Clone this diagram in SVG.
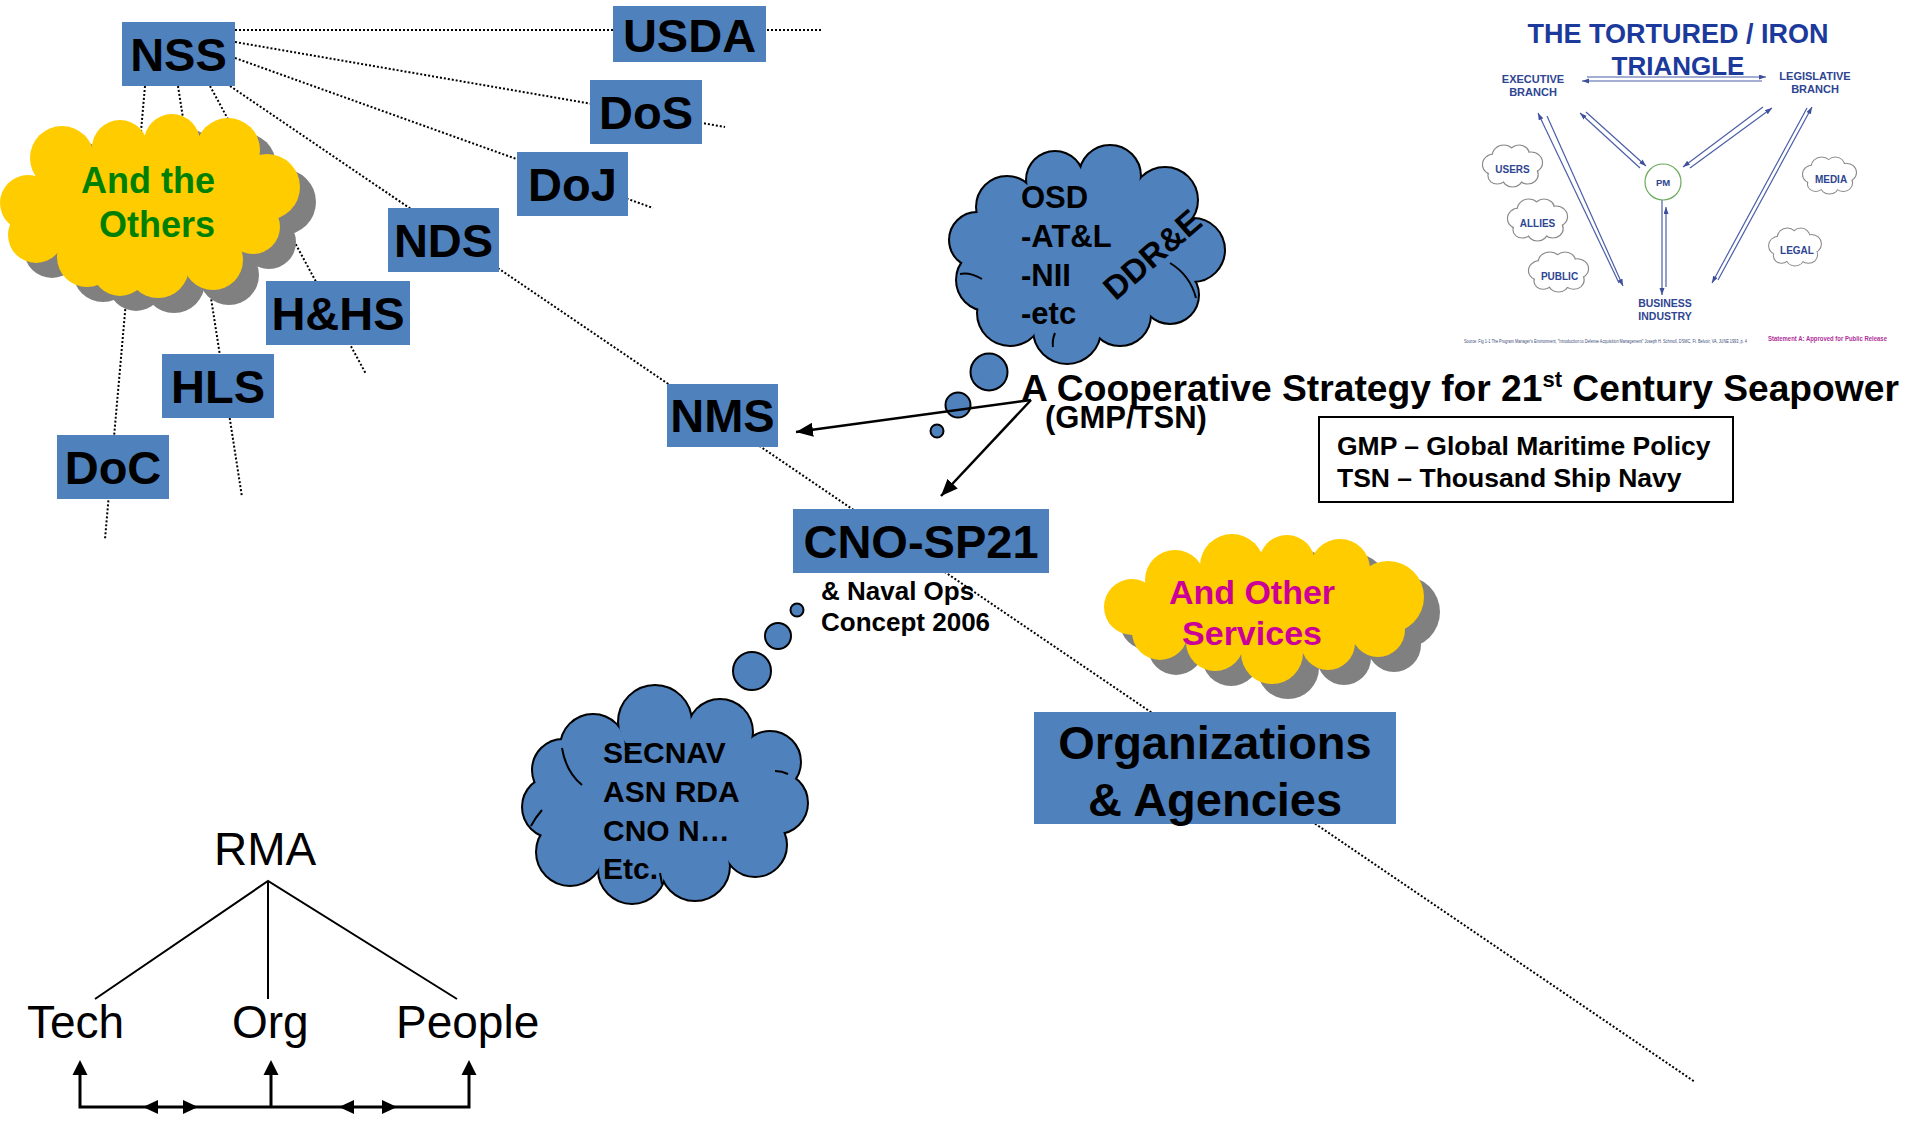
<svg xmlns="http://www.w3.org/2000/svg" xmlns:xlink="http://www.w3.org/1999/xlink" width="1911" height="1124" viewBox="0 0 1911 1124">
<style>
text{font-family:"Liberation Sans",Arial,sans-serif}
.box{fill:#4f81bd}
.lbl{font-weight:bold;font-size:47px;fill:#000;text-anchor:middle}
.dot{stroke:#000;stroke-width:2;stroke-dasharray:2 2;fill:none}
.arr{stroke:#000;stroke-width:2.5;fill:none;marker-end:url(#ah)}
.bold{font-weight:bold;fill:#000}
.inner{stroke:#000;stroke-width:2;fill:none}
.bub{fill:#4f81bd;stroke:#000;stroke-width:2}
.tl{stroke:#4b5ea8;stroke-width:1.2;fill:none;marker-end:url(#ta)}
.tt{font-weight:bold;fill:#2e4591;text-anchor:middle}
.rma{font-size:46px;fill:#000}
</style>
<defs>
<marker id="ah" markerUnits="userSpaceOnUse" markerWidth="18" markerHeight="14" refX="17" refY="7" orient="auto"><path d="M0,0 L17,7 L0,14 z" fill="#000"/></marker>
<marker id="ta" markerUnits="userSpaceOnUse" markerWidth="8" markerHeight="6" refX="7" refY="2.5" orient="auto"><path d="M0,0 L7,2.5 L0,5 z" fill="#3d4f9a"/></marker>
<g id="cOSD">
<circle cx="1007" cy="207" r="30"/><circle cx="1055" cy="180" r="28"/><circle cx="1110" cy="176" r="30"/><circle cx="1165" cy="200" r="32"/><circle cx="1193" cy="250" r="31"/><circle cx="1170" cy="295" r="28"/><circle cx="1120" cy="315" r="30"/><circle cx="1067" cy="330" r="33"/><circle cx="1010" cy="313" r="32"/><circle cx="987" cy="280" r="30"/><circle cx="977" cy="240" r="27"/><ellipse cx="1087" cy="253" rx="100" ry="73"/>
</g>
<g id="cSEC">
<circle cx="655" cy="722" r="36"/><circle cx="593" cy="747" r="32"/><circle cx="720" cy="732" r="32"/><circle cx="770" cy="762" r="30"/><circle cx="777" cy="803" r="30"/><circle cx="755" cy="845" r="31"/><circle cx="695" cy="866" r="34"/><circle cx="632" cy="870" r="33"/><circle cx="570" cy="852" r="33"/><circle cx="553" cy="807" r="30"/><circle cx="563" cy="770" r="30"/><circle cx="735" cy="775" r="25"/><circle cx="605" cy="770" r="25"/><circle cx="690" cy="750" r="22"/><ellipse cx="662" cy="810" rx="95" ry="65"/>
</g>
<g id="cOth">
<circle cx="28" cy="203" r="28"/><circle cx="62" cy="158" r="32"/><circle cx="120" cy="148" r="28"/><circle cx="172" cy="142" r="28"/><circle cx="228" cy="150" r="32"/><circle cx="267" cy="187" r="33"/><circle cx="253" cy="227" r="27"/><circle cx="213" cy="260" r="30"/><circle cx="158" cy="267" r="31"/><circle cx="120" cy="268" r="28"/><circle cx="87" cy="257" r="30"/><circle cx="36" cy="235" r="28"/><ellipse cx="150" cy="205" rx="110" ry="55"/>
</g>
<g id="cSvc">
<circle cx="1132" cy="607" r="28"/><circle cx="1175" cy="580" r="30"/><circle cx="1232" cy="566" r="32"/><circle cx="1287" cy="563" r="28"/><circle cx="1340" cy="569" r="30"/><circle cx="1388" cy="597" r="36"/><circle cx="1378" cy="630" r="27"/><circle cx="1328" cy="643" r="27"/><circle cx="1272" cy="653" r="31"/><circle cx="1215" cy="642" r="29"/><circle cx="1160" cy="632" r="28"/><ellipse cx="1265" cy="605" rx="115" ry="40"/>
</g>
<g id="sc">
<circle cx="-17" cy="-2" r="10"/><circle cx="-8" cy="-11" r="10"/><circle cx="6" cy="-12" r="9"/><circle cx="17" cy="-4" r="10"/><circle cx="14" cy="8" r="9"/><circle cx="0" cy="11" r="9"/><circle cx="-14" cy="9" r="8"/><ellipse cx="0" cy="0" rx="18" ry="10"/>
</g>
<g id="scOut"><use xlink:href="#sc" fill="none" stroke="#8a8a8a" stroke-width="2.2"/><use xlink:href="#sc" fill="#fff" stroke="none"/></g>
</defs>
<rect width="1911" height="1124" fill="#fff"/>

<g id="connectors-dotted">
<path class="dot" d="M235,30 H822"/>
<path class="dot" d="M235,42 L725,127"/>
<path class="dot" d="M235,58 L653,208"/>
<path class="dot" d="M230,86 L1695,1082"/>
<path class="dot" d="M145,86 L105,539"/>
<path class="dot" d="M178,86 L242,497"/>
<path class="dot" d="M210,86 L366,374"/>
</g>

<g id="cloud-others">
<use xlink:href="#cOth" fill="#808080" transform="translate(16,15)"/>
<use xlink:href="#cOth" fill="#ffcc00"/>
<text x="81" y="193" font-size="36" font-weight="bold" fill="#008000">And the</text>
<text x="99" y="237" font-size="36" font-weight="bold" fill="#008000">Others</text>
</g>

<g id="cloud-services">
<use xlink:href="#cSvc" fill="#808080" transform="translate(16,15)"/>
<use xlink:href="#cSvc" fill="#ffcc00"/>
<text x="1252" y="604" font-size="34" font-weight="bold" fill="#cc0099" text-anchor="middle">And Other</text>
<text x="1252" y="645" font-size="34" font-weight="bold" fill="#cc0099" text-anchor="middle">Services</text>
</g>

<g id="cloud-osd">
<use xlink:href="#cOSD" fill="none" stroke="#000" stroke-width="4"/>
<use xlink:href="#cOSD" fill="#4f81bd" stroke="none"/>
<path class="inner" d="M960,274 Q970,272 982,279"/>
<path class="inner" d="M1170,263 Q1190,275 1196,298"/>
<path class="inner" d="M1055,333 Q1052,340 1053,347"/>
<circle class="bub" cx="989" cy="372" r="18.5"/>
<circle class="bub" cx="958" cy="405" r="12.5"/>
<circle class="bub" cx="937" cy="431" r="6.5"/>
<text class="bold" x="1021" y="208" font-size="31">OSD</text>
<text class="bold" x="1021" y="247" font-size="31">-AT&amp;L</text>
<text class="bold" x="1021" y="286" font-size="31">-NII</text>
<text class="bold" x="1021" y="324" font-size="31">-etc</text>
<text class="bold" x="1152" y="266" font-size="33" text-anchor="middle" transform="rotate(-41 1152 254)">DDR&amp;E</text>
</g>

<g id="cloud-secnav">
<use xlink:href="#cSEC" fill="none" stroke="#000" stroke-width="4"/>
<use xlink:href="#cSEC" fill="#4f81bd" stroke="none"/>
<path class="inner" d="M562,748 Q566,772 582,785"/>
<path class="inner" d="M775,771 Q782,771 788,774"/>
<path class="inner" d="M660,873 Q661,878 662,884"/>
<path class="inner" d="M542,810 Q535,818 531,826"/>
<circle class="bub" cx="797" cy="610" r="6.5"/>
<circle class="bub" cx="778" cy="636" r="13"/>
<circle class="bub" cx="752" cy="671" r="19"/>
<text class="bold" x="603" y="763" font-size="30">SECNAV</text>
<text class="bold" x="603" y="802" font-size="30">ASN RDA</text>
<text class="bold" x="603" y="841" font-size="30">CNO N…</text>
<text class="bold" x="603" y="879" font-size="30">Etc.</text>
</g>

<g id="node-NSS"><rect class="box" x="122" y="22" width="113" height="64"/><text class="lbl" x="178.5" y="71">NSS</text></g>
<g id="node-USDA"><rect class="box" x="613" y="6" width="153" height="56"/><text class="lbl" x="689.5" y="52">USDA</text></g>
<g id="node-DoS"><rect class="box" x="590" y="80" width="112" height="64"/><text class="lbl" x="646" y="129">DoS</text></g>
<g id="node-DoJ"><rect class="box" x="517" y="152" width="111" height="64"/><text class="lbl" x="572.5" y="201">DoJ</text></g>
<g id="node-NDS"><rect class="box" x="388" y="208" width="111" height="64"/><text class="lbl" x="443.5" y="257">NDS</text></g>
<g id="node-HHS"><rect class="box" x="266" y="281" width="144" height="64"/><text class="lbl" x="338" y="330">H&amp;HS</text></g>
<g id="node-HLS"><rect class="box" x="162" y="354" width="112" height="64"/><text class="lbl" x="218" y="403">HLS</text></g>
<g id="node-DoC"><rect class="box" x="57" y="435" width="112" height="64"/><text class="lbl" x="113" y="484">DoC</text></g>
<g id="node-NMS"><rect class="box" x="667" y="384" width="111" height="63"/><text class="lbl" x="722.5" y="432">NMS</text></g>
<g id="node-CNO"><rect class="box" x="793" y="509" width="256" height="64"/><text class="lbl" x="921" y="558">CNO-SP21</text>
<text class="bold" x="821" y="600" font-size="26">&amp; Naval Ops</text>
<text class="bold" x="821" y="631" font-size="26">Concept 2006</text></g>
<g id="node-Org"><rect class="box" x="1034" y="712" width="362" height="112"/><text class="lbl" x="1215" y="759">Organizations</text><text class="lbl" x="1215" y="816">&amp; Agencies</text></g>

<g id="node-strategy">
<text class="bold" x="1021" y="401" font-size="37.2">A Cooperative Strategy for 21<tspan dy="-14" font-size="22">st</tspan><tspan dy="14"> Century Seapower</tspan></text>
<text class="bold" x="1045" y="428" font-size="31">(GMP/TSN)</text>
</g>

<g id="node-legend">
<rect x="1319" y="417" width="414" height="85" fill="#fff" stroke="#000" stroke-width="2"/>
<text class="bold" x="1337" y="455" font-size="26.5">GMP – Global Maritime Policy</text>
<text class="bold" x="1337" y="487" font-size="26.5">TSN – Thousand Ship Navy</text>
</g>

<g id="connectors">
<path class="arr" d="M1031,400 L796,432"/>
<path class="arr" d="M1031,400 L941,496"/>
</g>

<g id="iron-triangle">
<text x="1678" y="43" font-size="27" font-weight="bold" fill="#1b3a9c" text-anchor="middle">THE TORTURED / IRON</text>
<text x="1678" y="75" font-size="26" font-weight="bold" fill="#1b3a9c" text-anchor="middle">TRIANGLE</text>
<text class="tt" x="1533" y="83" font-size="11">EXECUTIVE</text>
<text class="tt" x="1533" y="96" font-size="11">BRANCH</text>
<text class="tt" x="1815" y="80" font-size="11">LEGISLATIVE</text>
<text class="tt" x="1815" y="93" font-size="11">BRANCH</text>
<path class="tl" d="M1587,77 L1766,77"/>
<path class="tl" d="M1762,81 L1582,81"/>
<path class="tl" d="M1640,168 L1580,113"/>
<path class="tl" d="M1586,112 L1646,166"/>
<path class="tl" d="M1690,168 L1772,108"/>
<path class="tl" d="M1763,107 L1683,167"/>
<path class="tl" d="M1619,283 L1538,113"/>
<path class="tl" d="M1547,116 L1623,286"/>
<path class="tl" d="M1718,280 L1812,107"/>
<path class="tl" d="M1807,108 L1712,283"/>
<path class="tl" d="M1662,199 L1662,295"/>
<path class="tl" d="M1666,287 L1666,207"/>
<circle cx="1663" cy="182" r="18" fill="#fff" stroke="#6aaa5a" stroke-width="1.2"/>
<text class="tt" x="1663" y="186" font-size="9.5">PM</text>
<text class="tt" x="1665" y="307" font-size="10.5">BUSINESS</text>
<text class="tt" x="1665" y="320" font-size="10.5">INDUSTRY</text>
<use xlink:href="#scOut" transform="translate(1512.5,166.5) scale(1.09,1)"/>
<use xlink:href="#scOut" transform="translate(1537.5,220.5) scale(1.09,1)"/>
<use xlink:href="#scOut" transform="translate(1558.5,272.5) scale(1.09,0.95)"/>
<use xlink:href="#scOut" transform="translate(1829.5,176) scale(0.98,0.88)"/>
<use xlink:href="#scOut" transform="translate(1795,247.5) scale(0.96,0.9)"/>
<text class="tt" x="1512.5" y="173" font-size="10">USERS</text>
<text class="tt" x="1537.5" y="227" font-size="10">ALLIES</text>
<text class="tt" x="1559.5" y="280" font-size="10">PUBLIC</text>
<text class="tt" x="1831" y="183" font-size="10">MEDIA</text>
<text class="tt" x="1797" y="254" font-size="10">LEGAL</text>
<text x="1464" y="343" font-size="4.5" fill="#3a4a7a" textLength="283" lengthAdjust="spacingAndGlyphs">Source: Fig 1-1 The Program Manager's Environment, "Introduction to Defense Acquisition Management" Joseph H. Schmoll, DSMC, Ft. Belvoir, VA, JUNE 1993, p. 4</text>
<text x="1768" y="341" font-size="6.5" font-weight="bold" fill="#b0309a" textLength="119" lengthAdjust="spacingAndGlyphs">Statement A: Approved for Public Release</text>
</g>

<g id="rma">
<text class="rma" x="214" y="865">RMA</text>
<text class="rma" x="27" y="1038">Tech</text>
<text class="rma" x="232" y="1038">Org</text>
<text class="rma" x="396" y="1038">People</text>
<path d="M95,999 L268,881 L457,999 M268,881 L268,999" stroke="#000" stroke-width="2" fill="none"/>
<path d="M80,1073 V1107 H469 V1073 M271,1107 V1073" stroke="#000" stroke-width="3" fill="none"/>
<path d="M80,1060 L72.5,1075 L87.5,1075 z M271,1060 L263.5,1075 L278.5,1075 z M469,1060 L461.5,1075 L476.5,1075 z" fill="#000"/>
<path d="M143,1107 L158,1100 L158,1114 z M198,1107 L183,1100 L183,1114 z M339,1107 L354,1100 L354,1114 z M397,1107 L382,1100 L382,1114 z" fill="#000"/>
</g>
</svg>
